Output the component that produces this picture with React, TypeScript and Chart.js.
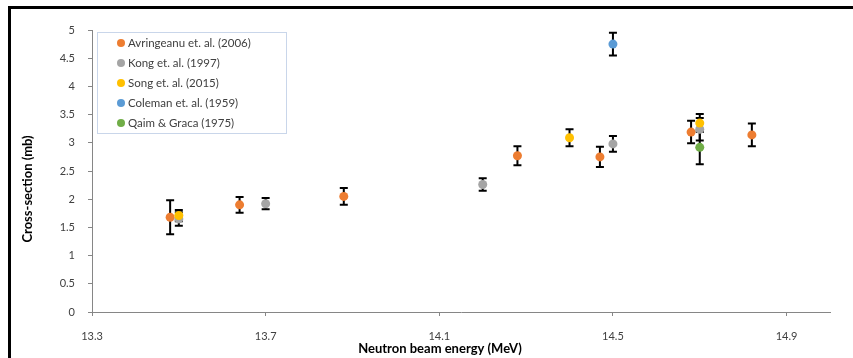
import React, { useEffect, useRef } from "react";
import { Chart, registerables } from "chart.js";

Chart.register(...registerables);

const SERIES_NAMES = [
  "Avringeanu et. al. (2006)",
  "Kong et. al. (1997)",
  "Song et. al. (2015)",
  "Coleman et. al. (1959)",
  "Qaim & Graca (1975)",
];
const SERIES_COLORS = ["#ED7D31", "#A5A5A5", "#FFC000", "#5B9BD5", "#70AD47"];

const AVR_X = [13.48, 13.64, 13.88, 14.28, 14.47, 14.68, 14.82];
const AVR_Y = [1.68, 1.9, 2.05, 2.77, 2.75, 3.19, 3.14];
const AVR_ERR = [0.3, 0.14, 0.15, 0.17, 0.18, 0.2, 0.2];

const KONG_X = [13.5, 13.7, 14.2, 14.5, 14.7];
const KONG_Y = [1.65, 1.92, 2.26, 2.98, 3.24];
const KONG_ERR = [0.12, 0.1, 0.11, 0.14, 0.2];

const SONG_X = [13.5, 14.4, 14.7];
const SONG_Y = [1.71, 3.09, 3.35];
const SONG_ERR = [0.1, 0.15, 0.16];

const COLEMAN_X = [14.5];
const COLEMAN_Y = [4.75];
const COLEMAN_ERR = [0.2];

const QAIM_X = [14.7];
const QAIM_Y = [2.92];
const QAIM_ERR = [0.3];

const X_TICKS = [13.3, 13.7, 14.1, 14.5, 14.9];
const X_MIN = 13.3;
const X_MAX = 15.0;
const Y_MIN = 0;
const Y_MAX = 5;
const Y_STEP = 0.5;

const X_TITLE = "Neutron beam energy (MeV)";
const Y_TITLE = "Cross-section (mb)";

const SERIES = [
  { xs: AVR_X, ys: AVR_Y, errs: AVR_ERR },
  { xs: KONG_X, ys: KONG_Y, errs: KONG_ERR },
  { xs: SONG_X, ys: SONG_Y, errs: SONG_ERR },
  { xs: COLEMAN_X, ys: COLEMAN_Y, errs: COLEMAN_ERR },
  { xs: QAIM_X, ys: QAIM_Y, errs: QAIM_ERR },
];

const FONT = "Lato, 'Open Sans', sans-serif";

const errorBarPlugin = {
  id: "errorBars",
  beforeDatasetsDraw(chart: any) {
    const ctx = chart.ctx;
    const xs = chart.scales.x;
    const ys = chart.scales.y;
    ctx.save();
    ctx.strokeStyle = "#000000";
    ctx.lineWidth = 2;
    SERIES.forEach((s) => {
      s.xs.forEach((xv, i) => {
        const px = xs.getPixelForValue(xv);
        const top = ys.getPixelForValue(s.ys[i] + s.errs[i]);
        const bot = ys.getPixelForValue(s.ys[i] - s.errs[i]);
        ctx.beginPath();
        ctx.moveTo(px, top);
        ctx.lineTo(px, bot);
        ctx.moveTo(px - 4, top);
        ctx.lineTo(px + 4, top);
        ctx.moveTo(px - 4, bot);
        ctx.lineTo(px + 4, bot);
        ctx.stroke();
      });
    });
    ctx.restore();
  },
};

const decorPlugin = {
  id: "decor",
  afterDraw(chart: any) {
    const ctx = chart.ctx;
    const area = chart.chartArea;
    ctx.save();
    // outer frame
    ctx.fillStyle = "#000000";
    ctx.fillRect(8, 6, 3, 352);
    ctx.fillRect(8, 6, 845, 3);

    // axis titles
    ctx.fillStyle = "#000000";
    ctx.font = `bold 13px ${FONT}`;
    ctx.textAlign = "center";
    ctx.textBaseline = "middle";
    ctx.fillText(X_TITLE, (area.left + area.right) / 2 - 21, 349);
    ctx.save();
    ctx.translate(28, 189);
    ctx.rotate(-Math.PI / 2);
    ctx.fillText(Y_TITLE, 0, 0);
    ctx.restore();

    // legend
    const lx = 97;
    const ly = 32;
    const lw = 189;
    const lh = 101;
    ctx.fillStyle = "#ffffff";
    ctx.fillRect(lx, ly, lw, lh);
    ctx.strokeStyle = "#C9D6EA";
    ctx.lineWidth = 1;
    ctx.strokeRect(lx + 0.5, ly + 0.5, lw, lh);
    ctx.font = `11.5px ${FONT}`;
    ctx.textAlign = "left";
    ctx.textBaseline = "middle";
    SERIES_NAMES.forEach((name, i) => {
      const cy = 43 + i * 20;
      ctx.beginPath();
      ctx.fillStyle = SERIES_COLORS[i];
      ctx.arc(121, cy, 4, 0, Math.PI * 2);
      ctx.fill();
      ctx.fillStyle = "#404040";
      ctx.fillText(name, 128, cy);
    });
    ctx.restore();
  },
};

export default function App() {
  const ref = useRef<HTMLCanvasElement | null>(null);
  useEffect(() => {
    if (!ref.current) return;
    const chart = new Chart(ref.current, {
      type: "scatter",
      data: {
        datasets: SERIES.map((s, i) => ({
          label: SERIES_NAMES[i],
          data: s.xs.map((x, j) => ({ x, y: s.ys[j] })),
          backgroundColor: SERIES_COLORS[i],
          borderColor: SERIES_COLORS[i],
          pointRadius: 4.5,
          pointBorderWidth: 0,
          pointHoverRadius: 4.5,
          order: SERIES.length - i,
        })),
      },
      options: {
        animation: false,
        responsive: false,
        maintainAspectRatio: false,
        layout: { padding: { left: 0, top: 30, right: 23, bottom: 0 } },
        plugins: {
          legend: { display: false },
          tooltip: { enabled: false },
        },
        scales: {
          x: {
            type: "linear",
            min: X_MIN,
            max: X_MAX,
            afterBuildTicks: (s: any) => {
              s.ticks = X_TICKS.map((v) => ({ value: v }));
            },
            afterFit: (s: any) => {
              s.height = 46;
            },
            grid: {
              display: true,
              drawOnChartArea: false,
              drawTicks: true,
              tickLength: 4,
              color: "#868686",
            },
            border: { display: true, color: "#868686", width: 1 },
            ticks: {
              padding: 14,
              color: "#404040",
              font: { family: FONT, size: 11 },
              maxRotation: 0,
              callback: (v: any) => Number(v).toFixed(1),
            },
          },
          y: {
            type: "linear",
            min: Y_MIN,
            max: Y_MAX,
            afterFit: (s: any) => {
              s.width = 92;
            },
            grid: {
              display: true,
              drawOnChartArea: false,
              drawTicks: true,
              tickLength: 4,
              color: "#868686",
            },
            border: { display: true, color: "#868686", width: 1 },
            ticks: {
              stepSize: Y_STEP,
              padding: 13,
              color: "#404040",
              font: { family: FONT, size: 11 },
              callback: (v: any) => String(Math.round(Number(v) * 10) / 10),
            },
          },
        },
      },
      plugins: [errorBarPlugin, decorPlugin],
    } as any);
    return () => chart.destroy();
  }, []);
  return (
    <div style={{ position: "absolute", left: 0, top: 0, width: 853, height: 358, background: "#ffffff" }}>
      <canvas ref={ref} width={853} height={358} style={{ width: 853, height: 358, display: "block" }} />
    </div>
  );
}
